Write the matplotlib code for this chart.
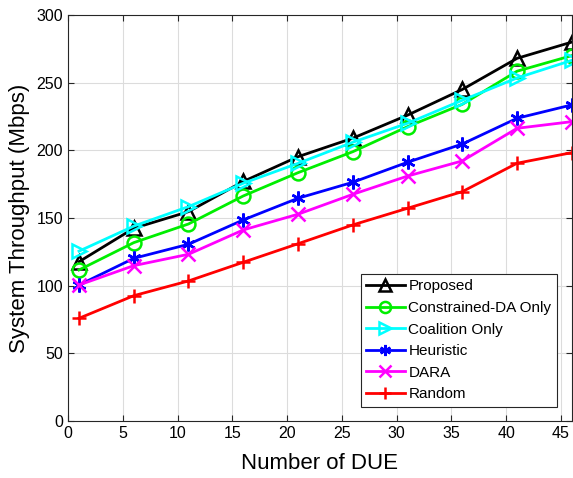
import matplotlib.pyplot as plt

# Throughput vs. number of DUE for each scheme
num_due = [1, 6, 11, 16, 21, 26, 31, 36, 41, 46]
proposed = [117.7, 142.4, 154.7, 177, 195.3, 209, 226, 245, 268, 280]
constrained_da = [111.6, 131.8, 145.6, 166.3, 183.5, 199, 217.5, 234, 258.5, 270]
coalition = [125.5, 144, 158.4, 175.7, 190.4, 206, 220, 237, 253.5, 266.5]
heuristic = [100.5, 120.2, 130.6, 148.6, 164.6, 176.4, 191.2, 204.7, 223.7, 233.6]
dara = [100.5, 114.8, 123.2, 141.2, 152.8, 167.5, 181, 192.2, 216.3, 221.2]
random_sel = [75.9, 92.6, 103.5, 117.3, 131, 144.9, 157.2, 169.5, 190.5, 198.3]

plt.rcParams['font.family'] = ['Liberation Sans', 'DejaVu Sans']

fig = plt.figure(figsize=(5.73, 4.78), dpi=100)
ax = fig.add_axes([0.1187, 0.1192, 0.8793, 0.8494])

# matlab-style asterisk: vertical arm plus diagonals
asterisk = (6, 2, 0)

series = [
    (proposed, 'Proposed', 'k', '^'),
    (constrained_da, 'Constrained-DA Only', '#00ee00', 'o'),
    (coalition, 'Coalition Only', '#00ffff', '>'),
    (heuristic, 'Heuristic', '#0000ff', asterisk),
    (dara, 'DARA', '#ff00ff', 'x'),
    (random_sel, 'Random', '#ff0000', '+'),
]

for vals, label, color, marker in series:
    ax.plot(num_due, vals, color=color, marker=marker, markersize=10,
            markerfacecolor='none', markeredgewidth=1.8, linewidth=2,
            label=label)

ax.set_xlim(0, 46)
ax.set_ylim(0, 300)
ax.set_xticks(range(0, 46, 5))
ax.set_yticks(range(0, 301, 50))
ax.tick_params(direction='in', top=True, right=True, labelsize=11.5, length=4,
               color='#262626')
ax.grid(True, color='#dcdcdc', linewidth=0.8)
ax.set_axisbelow(True)
for sp in ax.spines.values():
    sp.set_color('#262626')
    sp.set_linewidth(0.8)

ax.set_xlabel('Number of DUE', fontsize=16, labelpad=9)
ax.set_ylabel('System Throughput (Mbps)', fontsize=16, labelpad=5)

leg = ax.legend(loc='lower right', bbox_to_anchor=(0.97, 0.035), fontsize=11,
                fancybox=False, edgecolor='#262626', framealpha=1,
                handlelength=2.5, borderpad=0.35, labelspacing=0.5,
                handletextpad=0.25, borderaxespad=0)
leg.get_frame().set_linewidth(0.8)
for h in leg.legend_handles:
    h.set_markersize(8)

fig.savefig('out.png', dpi=100)
